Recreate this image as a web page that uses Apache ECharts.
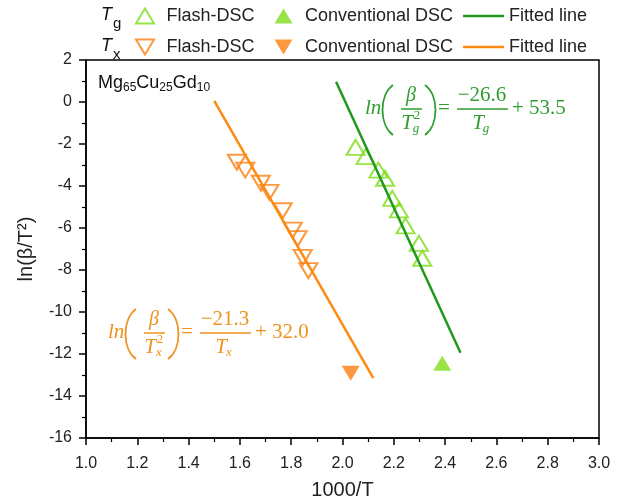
<!DOCTYPE html>
<html>
<head>
<meta charset="utf-8">
<script src="https://cdn.jsdelivr.net/npm/echarts@6/dist/echarts.min.js"></script>
<style>
html, body { margin: 0; padding: 0; background: #fff; }
#main { width: 618px; height: 502px; }
</style>
</head>
<body>
<div id="main"></div>
<script>
// values
var tgFlashX = [2.051, 2.090, 2.140, 2.166, 2.194, 2.220, 2.246, 2.298, 2.311];
var tgFlashY = [-2.16, -2.60, -3.24, -3.63, -4.59, -5.14, -5.90, -6.73, -7.44];
var txFlashX = [1.588, 1.621, 1.682, 1.715, 1.767, 1.806, 1.825, 1.845, 1.867];
var txFlashY = [-2.87, -3.24, -3.87, -4.30, -5.18, -6.10, -6.51, -7.40, -8.03];
var tgConvX = [2.389];
var tgConvY = [-12.44];
var txConvX = [2.032];
var txConvY = [-12.92];
// fitted line end points
var tgFitX = [1.975, 2.46];
var tgFitY = [0.96, -11.94];
var txFitX = [1.50, 2.12];
var txFitY = [0.05, -13.15];

var xTicks = { min: 1, max: 3, step: 0.2 };
var yTicks = { min: -16, max: 2, step: 2 };

var LIME = '#7fdc1c';
var DKGREEN = '#1f9a1f';
var ORANGE = '#fb7f10';
var ORLINE = '#ff8a12';
var EQGREEN = '#2f9e2f';
var EQORANGE = '#f0921e';

var UP = 'path://M9,0L18,15L0,15Z';
var DOWN = 'path://M0,0L18,0L9,15Z';
var BAR = 'path://M0,0L41,0L41,2.5L0,2.5Z';

function zip(xs, ys) {
    var out = [];
    for (var i = 0; i < xs.length; i++) out.push([xs[i], ys[i]]);
    return out;
}

var myChart = echarts.init(document.getElementById('main'));

var SERIF = '"Liberation Serif"';
function txt(t, x, y, font, color, align) {
    return { type: 'text', style: { text: t, x: x, y: y, font: font, fill: color, align: align || 'center', verticalAlign: 'middle' } };
}
function ln(x1, y1, x2, y2, color, w) {
    return { type: 'line', shape: { x1: x1, y1: y1, x2: x2, y2: y2 }, style: { stroke: color, lineWidth: w } };
}
function paren(x0, dir, color) {
    // dir = -1 for "(", 1 for ")"
    return {
        type: 'bezierCurve',
        shape: { x1: x0, y1: -24, cpx1: x0 + dir * 14, cpy1: -14, cpx2: x0 + dir * 14, cpy2: 16, x2: x0, y2: 26 },
        style: { stroke: color, lineWidth: 1.8, fill: null }
    };
}
// equation ln(β/T_s²) = num/T_s + c
function equation(ox, oy, color, sub, num, c) {
    var it = 'italic 21px ' + SERIF;
    var up = '21px ' + SERIF;
    return {
        type: 'group', x: ox, y: oy,
        children: [
            txt('ln', 0, -1, it, color, 'left'),
            paren(28, -1, color),
            txt('β', 46, -13, 'italic 20px ' + SERIF, color),
            ln(36, 0, 57, 0, color, 1.5),
            txt('T', 42, 14, it, color),
            txt('2', 52, 7, '13px ' + SERIF, color),
            txt(sub, 51, 20, 'italic 13px ' + SERIF, color),
            paren(60, 1, color),
            txt('=', 79, -1, up, color),
            txt(num, 117, -14, up, color),
            ln(92, 0, 143, 0, color, 1.5),
            txt('T', 113, 14, it, color),
            txt(sub, 121, 20, 'italic 13px ' + SERIF, color),
            txt('+ ' + c, 147, -1, up, color, 'left')
        ]
    };
}

var legendText = { fontSize: 18, color: '#222', fontFamily: 'Liberation Sans' };
function legendMarks(top, names) {
    return {
        data: names, left: 135, top: top, padding: 0,
        itemWidth: 33, itemHeight: 15, itemGap: 20,
        selectedMode: false,
        formatter: function (n) { return n.slice(3); },
        textStyle: legendText
    };
}
function legendLine(top, name) {
    return {
        data: [{ name: name, icon: BAR }], left: 463, top: top, padding: 0,
        itemWidth: 41, itemHeight: 15,
        selectedMode: false,
        formatter: function (n) { return n.slice(3); },
        textStyle: legendText
    };
}

var option = {
    animation: false,
    backgroundColor: '#fff',
    grid: {
        left: 86, right: 19, top: 60, bottom: 64,
        containLabel: false, outerBoundsMode: 'none',
        show: true, borderColor: '#000', borderWidth: 1.5, backgroundColor: 'transparent'
    },
    legend: [
        legendMarks(7, ['Tg Flash-DSC', 'Tg Conventional DSC']),
        legendLine(7, 'Tg Fitted line'),
        legendMarks(38, ['Tx Flash-DSC', 'Tx Conventional DSC']),
        legendLine(38, 'Tx Fitted line')
    ],
    xAxis: {
        type: 'value',
        min: xTicks.min, max: xTicks.max, interval: xTicks.step,
        name: '1000/T', nameLocation: 'middle', nameGap: 42,
        nameTextStyle: { fontSize: 20, color: '#222', fontFamily: 'Liberation Sans' },
        axisLine: { show: true, onZero: false, lineStyle: { color: '#000', width: 1.5 } },
        axisTick: { show: true, inside: false, length: 7, lineStyle: { color: '#000', width: 1.5 } },
        minorTick: { show: true, splitNumber: 2, length: 4, lineStyle: { color: '#000', width: 1.2 } },
        splitLine: { show: false },
        axisLabel: {
            fontSize: 16, color: '#222', fontFamily: 'Liberation Sans', margin: 18,
            formatter: function (v) { return v.toFixed(1); }
        }
    },
    yAxis: {
        type: 'value',
        min: yTicks.min, max: yTicks.max, interval: yTicks.step,
        name: 'ln(β/T²)', nameLocation: 'middle', nameGap: 50, nameRotate: 90,
        nameTextStyle: { fontSize: 20, color: '#222', fontFamily: 'Liberation Sans' },
        axisLine: { show: true, onZero: false, lineStyle: { color: '#000', width: 1.5 } },
        axisTick: { show: true, inside: false, length: 7, lineStyle: { color: '#000', width: 1.5 } },
        minorTick: { show: true, splitNumber: 2, length: 4, lineStyle: { color: '#000', width: 1.2 } },
        splitLine: { show: false },
        axisLabel: { fontSize: 16, color: '#222', fontFamily: 'Liberation Sans', margin: 14 }
    },
    graphic: [
        {
            type: 'text', x: 98, y: 72,
            style: {
                text: 'Mg{s|65}Cu{s|25}Gd{s|10}',
                font: '18px "Liberation Sans"', fill: '#111',
                lineHeight: 22,
                rich: { s: { fontSize: 12, lineHeight: 12, verticalAlign: 'bottom', fontFamily: 'Liberation Sans', fill: '#111' } }
            }
        },
        {
            type: 'text', x: 101, y: 5,
            style: {
                text: '{t|T}{s|g}', fill: '#111', font: 'italic 18px "Liberation Sans"',
                rich: {
                    t: { fontSize: 18, fontStyle: 'italic', lineHeight: 20, fontFamily: 'Liberation Sans' },
                    s: { fontSize: 15, lineHeight: 10, verticalAlign: 'bottom', fontFamily: 'Liberation Sans', padding: [0, 0, -6, 1] }
                }
            }
        },
        {
            type: 'text', x: 101, y: 36,
            style: {
                text: '{t|T}{s|x}', fill: '#111', font: 'italic 18px "Liberation Sans"',
                rich: {
                    t: { fontSize: 18, fontStyle: 'italic', lineHeight: 20, fontFamily: 'Liberation Sans' },
                    s: { fontSize: 15, lineHeight: 10, verticalAlign: 'bottom', fontFamily: 'Liberation Sans', padding: [0, 0, -6, 1] }
                }
            }
        },
        equation(365, 109, EQGREEN, 'g', '−26.6', '53.5'),
        equation(108, 333, EQORANGE, 'x', '−21.3', '32.0')
    ],
    series: [
        {
            name: 'Tg Flash-DSC', type: 'scatter', data: zip(tgFlashX, tgFlashY),
            symbol: UP, symbolSize: [18, 15],
            itemStyle: { color: 'rgba(255,255,255,0)', borderColor: LIME, borderWidth: 2 }
        },
        {
            name: 'Tg Conventional DSC', type: 'scatter', data: zip(tgConvX, tgConvY),
            symbol: UP, symbolSize: [18, 15],
            itemStyle: { color: LIME }
        },
        {
            name: 'Tg Fitted line', type: 'line', data: zip(tgFitX, tgFitY),
            symbol: 'none', lineStyle: { color: DKGREEN, width: 2.5 }, itemStyle: { color: DKGREEN }
        },
        {
            name: 'Tx Flash-DSC', type: 'scatter', data: zip(txFlashX, txFlashY),
            symbol: DOWN, symbolSize: [18, 15],
            itemStyle: { color: 'rgba(255,255,255,0)', borderColor: ORANGE, borderWidth: 2 }
        },
        {
            name: 'Tx Conventional DSC', type: 'scatter', data: zip(txConvX, txConvY),
            symbol: DOWN, symbolSize: [18, 15],
            itemStyle: { color: ORANGE }
        },
        {
            name: 'Tx Fitted line', type: 'line', data: zip(txFitX, txFitY),
            symbol: 'none', lineStyle: { color: ORLINE, width: 2.5 }, itemStyle: { color: ORLINE }
        }
    ]
};

myChart.setOption(option);
</script>
</body>
</html>
